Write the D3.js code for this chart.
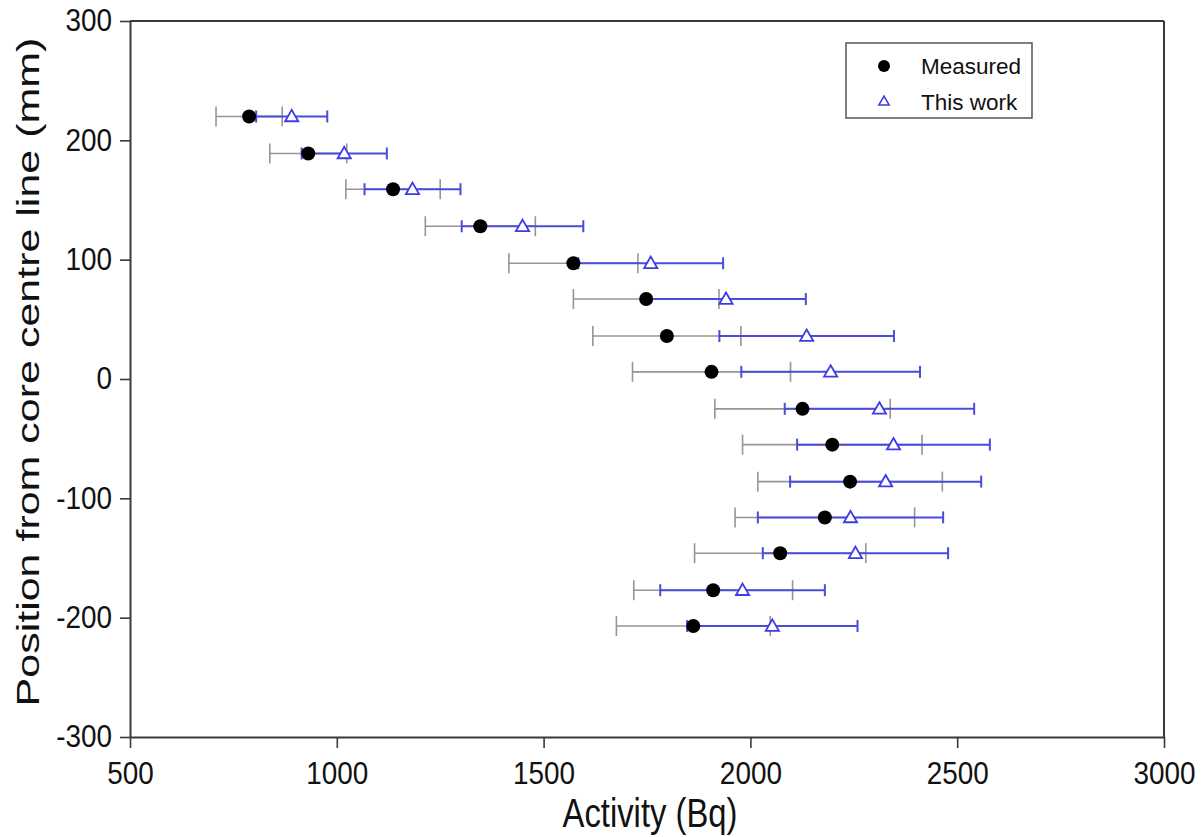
<!DOCTYPE html>
<html>
<head>
<meta charset="utf-8">
<script src="https://cdn.jsdelivr.net/npm/d3@7"></script>
<style>
  html, body { margin: 0; padding: 0; background: #fff; }
  svg { display: block; font-family: Arial, "Liberation Sans", sans-serif; }
</style>
</head>
<body>
<svg id="chart" width="1204" height="837"></svg>
<script>
// Position of each sampling point from the core centre line (mm)
const positions = [220, 189, 159, 128, 97, 67, 36, 6, -25, -55, -86, -116, -146, -177, -207];
// Measured activity (Bq) and its uncertainty
const measured    = [788, 931, 1136, 1347, 1572, 1748, 1798, 1906, 2126, 2198, 2241, 2180, 2072, 1910, 1862];
const measuredErr = [80, 93, 114, 133, 156, 176, 179, 191, 212, 217, 223, 217, 207, 192, 186];
// Calculated activity (Bq) and its uncertainty
const thisWork    = [891, 1018, 1183, 1449, 1759, 1941, 2136, 2194, 2312, 2346, 2327, 2242, 2254, 1981, 2053];
const thisWorkErr = [86, 103, 116, 147, 175, 193, 211, 216, 229, 233, 231, 224, 224, 199, 206];

const xTicks = [500, 1000, 1500, 2000, 2500, 3000];
const yTicks = [-300, -200, -100, 0, 100, 200, 300];
const seriesNames = ["Measured", "This work"];

const svg = d3.select("#chart");
const plotL = 130, plotR = 1164, plotT = 21, plotB = 737;

const x = d3.scaleLinear().domain([500, 3000]).range([plotL, plotR]);
const y = d3.scaleLinear().domain([-300, 300]).range([plotB, plotT]);

const axisColor = "#3a3a3a";
const greyBar = "#959595";
const blueBar = "#4b4bdc";
const blueMark = "#3c3ce6";

// Frame: top and right edges
svg.append("line").attr("x1", plotL).attr("x2", plotR).attr("y1", plotT).attr("y2", plotT)
  .attr("stroke", axisColor).attr("stroke-width", 2);
svg.append("line").attr("x1", plotR).attr("x2", plotR).attr("y1", plotT).attr("y2", plotB)
  .attr("stroke", axisColor).attr("stroke-width", 2);

const tickFont = 31, tickSx = 0.9;
const plainNum = d => String(d);

// Bottom axis
const gx = svg.append("g").attr("transform", `translate(0,${plotB})`)
  .call(d3.axisBottom(x).tickValues(xTicks).tickSizeInner(11).tickSizeOuter(0).tickPadding(14).tickFormat(plainNum));
// Left axis
const gy = svg.append("g").attr("transform", `translate(${plotL},0)`)
  .call(d3.axisLeft(y).tickValues(yTicks).tickSizeInner(10).tickSizeOuter(0).tickPadding(8).tickFormat(plainNum));

[gx, gy].forEach(g => {
  g.select(".domain").attr("stroke", axisColor).attr("stroke-width", 2);
  g.selectAll(".tick line").attr("stroke", axisColor).attr("stroke-width", 1.6);
  g.selectAll(".tick text").attr("fill", "#111").attr("font-size", tickFont)
    .attr("font-family", "Arial, 'Liberation Sans', sans-serif");
});
gx.selectAll(".tick text").attr("transform", `scale(${tickSx},1)`);
gy.selectAll(".tick text").each(function () {
  const t = d3.select(this);
  const xx = +t.attr("x");
  t.attr("x", xx / tickSx).attr("transform", `scale(${tickSx},1)`);
});

// Axis titles
svg.append("text")
  .attr("transform", `translate(${(plotL + plotR) / 2 + 3},827) scale(0.82,1)`)
  .attr("text-anchor", "middle").attr("font-size", 40).attr("fill", "#111")
  .text("Activity (Bq)");
svg.append("text")
  .attr("transform", `translate(39,${(plotT + plotB) / 2 - 7}) rotate(-90) scale(1,0.74)`)
  .attr("text-anchor", "middle").attr("font-size", 43).attr("fill", "#111")
  .text("Position from core centre line (mm)");

const rows = positions.map((p, i) => ({
  p, m: measured[i], me: measuredErr[i], t: thisWork[i], te: thisWorkErr[i]
}));

// Error bars: horizontal line with end caps
function errorBars(cls, val, err, color, capH, width) {
  const g = svg.append("g").attr("class", cls);
  const row = g.selectAll("g").data(rows).join("g");
  row.append("line")
    .attr("x1", d => x(val(d) - err(d))).attr("x2", d => x(val(d) + err(d)))
    .attr("y1", d => y(d.p)).attr("y2", d => y(d.p))
    .attr("stroke", color).attr("stroke-width", width);
  [-1, 1].forEach(s => {
    row.append("line")
      .attr("x1", d => x(val(d) + s * err(d))).attr("x2", d => x(val(d) + s * err(d)))
      .attr("y1", d => y(d.p) - capH / 2).attr("y2", d => y(d.p) + capH / 2)
      .attr("stroke", color).attr("stroke-width", width);
  });
}
errorBars("err-measured", d => d.m, d => d.me, greyBar, 20, 1.6);
errorBars("err-thiswork", d => d.t, d => d.te, blueBar, 12, 2);

// Measured points
svg.append("g").selectAll("circle").data(rows).join("circle")
  .attr("cx", d => x(d.m)).attr("cy", d => y(d.p)).attr("r", 7)
  .attr("fill", "#000");

// Calculated points
const tri = d3.symbol().type(d3.symbolTriangle).size(75);
svg.append("g").selectAll("path").data(rows).join("path")
  .attr("d", tri)
  .attr("transform", d => `translate(${x(d.t)},${y(d.p) + 1})`)
  .attr("fill", "#fff").attr("stroke", blueMark).attr("stroke-width", 1.8);

// Legend
const lg = svg.append("g");
lg.append("rect").attr("x", 846).attr("y", 43).attr("width", 186).attr("height", 75)
  .attr("fill", "#fff").attr("stroke", "#555").attr("stroke-width", 1.5);
lg.append("circle").attr("cx", 884).attr("cy", 66).attr("r", 6).attr("fill", "#000");
lg.append("path").attr("d", d3.symbol().type(d3.symbolTriangle).size(45))
  .attr("transform", "translate(884,102)")
  .attr("fill", "#fff").attr("stroke", blueMark).attr("stroke-width", 1.6);
lg.selectAll("text.lbl").data(seriesNames).join("text").attr("class", "lbl")
  .attr("x", 921).attr("y", (d, i) => 74 + i * 36)
  .attr("font-size", 22.5).attr("fill", "#111").text(d => d);
</script>
</body>
</html>
